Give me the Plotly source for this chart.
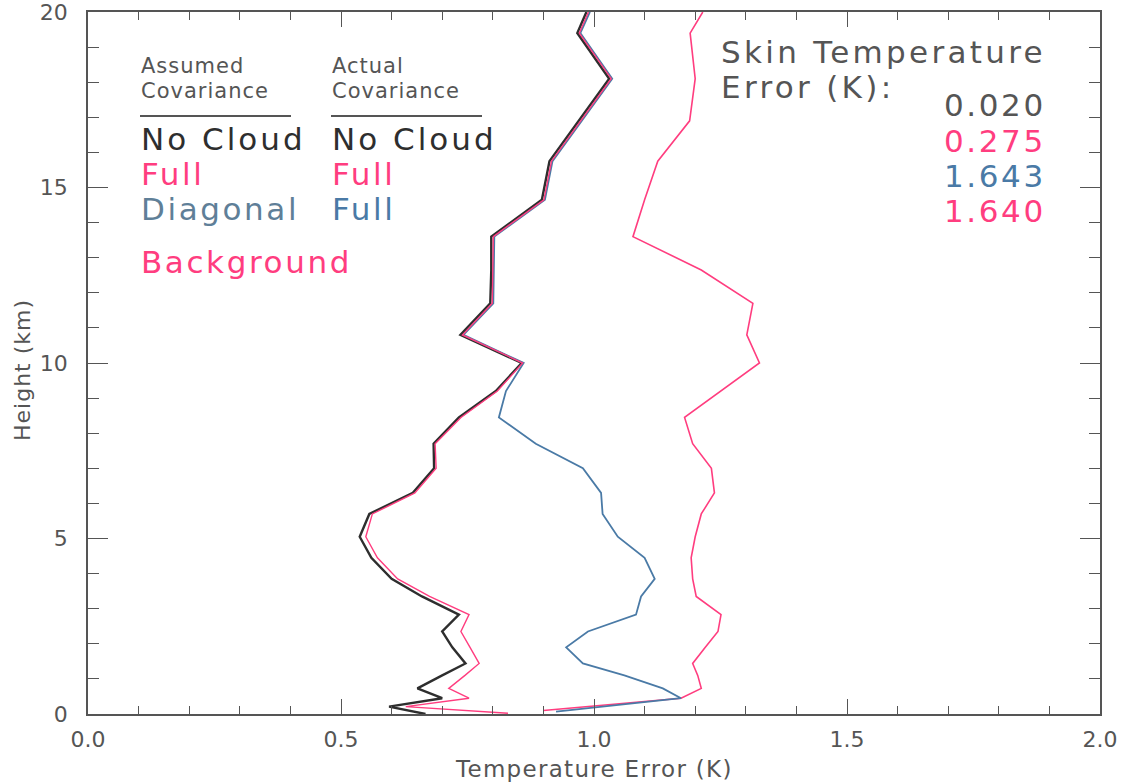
import plotly.graph_objects as go

# ---- data: temperature retrieval error profiles (K) versus height (km) ----
# Assumed No Cloud / Actual No Cloud
h_noc = [20.0, 19.4, 18.1, 16.9, 15.75, 14.65, 13.6, 12.65, 11.7, 10.8, 10.0,
         9.2, 8.45, 7.7, 7.0, 6.3, 5.7, 5.05, 4.45, 3.85, 3.35, 2.83, 2.35,
         1.9, 1.44, 1.1, 0.73, 0.45, 0.21, 0.0]
t_noc = [0.985, 0.967, 1.030, 0.970, 0.912, 0.897, 0.797, 0.797, 0.795, 0.736, 0.857,
         0.806, 0.733, 0.683, 0.684, 0.642, 0.556, 0.537, 0.560, 0.600, 0.660, 0.733, 0.700,
         0.720, 0.746, 0.700, 0.651, 0.700, 0.595, 0.667]

# Assumed Full / Actual Full
h_full = [20.0, 19.4, 18.1, 16.9, 15.75, 14.65, 13.6, 12.65, 11.7, 10.8, 10.0,
          9.2, 8.45, 7.7, 7.0, 6.3, 5.7, 5.05, 4.45, 3.85, 3.35, 2.83, 2.35,
          1.9, 1.44, 1.1, 0.73, 0.45, 0.21, 0.02]
t_full = [0.989, 0.971, 1.034, 0.974, 0.916, 0.901, 0.801, 0.800, 0.799, 0.740, 0.859,
          0.809, 0.737, 0.686, 0.688, 0.646, 0.562, 0.549, 0.572, 0.612, 0.675, 0.753, 0.737,
          0.755, 0.773, 0.745, 0.713, 0.753, 0.628, 0.830]

# Assumed Diagonal / Actual Full
h_diag = [20.0, 19.4, 18.1, 16.9, 15.75, 14.65, 13.6, 12.65, 11.7, 10.8, 10.0,
          9.2, 8.45, 7.7, 7.0, 6.3, 5.7, 5.05, 4.45, 3.85, 3.35, 2.83, 2.35,
          1.9, 1.44, 1.1, 0.73, 0.45, 0.07]
t_diag = [0.992, 0.973, 1.036, 0.976, 0.918, 0.903, 0.803, 0.802, 0.801, 0.742, 0.861,
          0.826, 0.812, 0.885, 0.978, 1.014, 1.017, 1.047, 1.100, 1.120, 1.093, 1.083, 0.988,
          0.945, 0.978, 1.060, 1.136, 1.172, 0.925]

# Background
h_bg = [20.0, 19.4, 18.1, 16.9, 15.75, 14.65, 13.6, 12.65, 11.7, 10.8, 10.0,
        9.2, 8.45, 7.7, 7.0, 6.3, 5.7, 5.05, 4.45, 3.85, 3.35, 2.83, 2.35,
        1.9, 1.44, 1.1, 0.73, 0.45, 0.1]
t_bg = [1.215, 1.190, 1.200, 1.189, 1.126, 1.100, 1.077, 1.212, 1.314, 1.302, 1.327,
        1.250, 1.179, 1.195, 1.232, 1.238, 1.212, 1.200, 1.192, 1.195, 1.202, 1.251, 1.245,
        1.220, 1.195, 1.205, 1.212, 1.172, 0.900]

# skin temperature errors (K), in legend order
skin_err = ["0.020", "0.275", "1.643", "1.640"]

x_ticks = [0.0, 0.5, 1.0, 1.5, 2.0]
x_ticktext = ["0.0", "0.5", "1.0", "1.5", "2.0"]
y_ticks = [0, 5, 10, 15, 20]

# ---- styling ----
BLACK = "#2e2e2e"
PINK = "#ff3d7f"
BLUE = "#4a7aa6"
GRAY = "#555555"
FONT = "DejaVu Sans"

W, H = 1122, 784
L, R, T, B = 88, 1100, 12, 714   # plot area edges in pixels


def px(xp):
    return (xp - L) / (R - L)


def py(yp):
    return (B - yp) / (B - T)


fig = go.Figure()
fig.add_trace(go.Scatter(x=t_bg, y=h_bg, mode="lines",
                         line=dict(color=PINK, width=1.6), name="Background"))
fig.add_trace(go.Scatter(x=t_noc, y=h_noc, mode="lines",
                         line=dict(color=BLACK, width=2.4), name="No Cloud"))
fig.add_trace(go.Scatter(x=t_diag, y=h_diag, mode="lines",
                         line=dict(color=BLUE, width=1.8), name="Diagonal / Full"))
fig.add_trace(go.Scatter(x=t_full, y=h_full, mode="lines",
                         line=dict(color=PINK, width=1.4), name="Full / Full"))

ann = []


def label(text, xp, yp, size, color=GRAY, xanchor="left", spacing=2.6, box_h=None):
    item = dict(text=f"<span style='letter-spacing:{spacing}px'>{text}</span>",
                x=px(xp), y=py(yp), xref="paper", yref="paper",
                xanchor=xanchor, yanchor="middle", showarrow=False,
                font=dict(family=FONT, size=size, color=color))
    if box_h:
        item["height"] = box_h
    ann.append(item)


# legend block
label("Assumed", 139, 66, 21, spacing=1.0, box_h=25)
label("Covariance", 139, 91, 21, spacing=1.0, box_h=25)
label("Actual", 330, 66, 21, spacing=1.0, box_h=25)
label("Covariance", 330, 91, 21, spacing=1.0, box_h=25)
label("No Cloud", 139, 139, 31, BLACK, spacing=3.0, box_h=35)
label("No Cloud", 330, 139, 31, BLACK, spacing=3.0, box_h=35)
label("Full", 139, 174, 31, PINK, box_h=35)
label("Full", 330, 174, 31, PINK, box_h=35)
label("Diagonal", 139, 209, 31, "#5f7f98", box_h=35)
label("Full", 330, 209, 31, BLUE, box_h=35)
label("Background", 139, 262, 31, PINK, box_h=40)

# skin temperature block
label("Skin Temperature", 719, 52, 31, spacing=3.3, box_h=35)
label("Error (K):", 719, 87, 31, spacing=3.3, box_h=35)
skin_colors = [GRAY, PINK, BLUE, PINK]
for i, (txt, col) in enumerate(zip(skin_err, skin_colors)):
    label(txt, 1048, 105 + 35 * i, 31, col, xanchor="right", box_h=35)

# axis titles
ann.append(dict(text="<span style='letter-spacing:1.3px'>Temperature Error (K)</span>",
                x=px(594), y=py(769), xref="paper", yref="paper",
                xanchor="center", yanchor="middle", showarrow=False,
                font=dict(family=FONT, size=23, color=GRAY)))
ann.append(dict(text="<span style='letter-spacing:1px'>Height (km)</span>",
                x=px(22), y=py(370), xref="paper", yref="paper",
                xanchor="center", yanchor="middle", showarrow=False, textangle=-90,
                font=dict(family=FONT, size=22, color=GRAY)))

shapes = [
    dict(type="line", xref="paper", yref="paper", x0=px(140), x1=px(291),
         y0=py(116), y1=py(116), line=dict(color=GRAY, width=2)),
    dict(type="line", xref="paper", yref="paper", x0=px(331), x1=px(482),
         y0=py(116), y1=py(116), line=dict(color=GRAY, width=2)),
]

fig.update_layout(
    width=W, height=H,
    margin=dict(l=L, r=W - R, t=T, b=H - B, pad=0, autoexpand=False),
    paper_bgcolor="white", plot_bgcolor="white",
    showlegend=False,
    annotations=ann, shapes=shapes,
    font=dict(family=FONT, color=GRAY),
)
fig.update_xaxes(
    range=[0, 2], tickvals=x_ticks, ticktext=x_ticktext, automargin=False,
    ticks="inside", ticklen=15, tickwidth=1.3, tickcolor=GRAY,
    minor=dict(dtick=0.1, ticks="inside", ticklen=8, tickwidth=1.2, tickcolor=GRAY),
    showline=True, linecolor=GRAY, linewidth=1.5, mirror="allticks",
    showgrid=False, zeroline=False,
    tickfont=dict(family=FONT, size=22, color=GRAY), ticklabelstandoff=5,
    ticklabeloverflow="allow",
)
fig.update_yaxes(
    range=[0, 20], tickvals=y_ticks, automargin=False,
    ticks="inside", ticklen=20, tickwidth=1.3, tickcolor=GRAY,
    minor=dict(dtick=1, ticks="inside", ticklen=11, tickwidth=1.2, tickcolor=GRAY),
    showline=True, linecolor=GRAY, linewidth=1.5, mirror="allticks",
    showgrid=False, zeroline=False,
    tickfont=dict(family=FONT, size=22, color=GRAY), ticklabelstandoff=14,
    ticklabeloverflow="allow",
)

fig.write_html("out.html")
